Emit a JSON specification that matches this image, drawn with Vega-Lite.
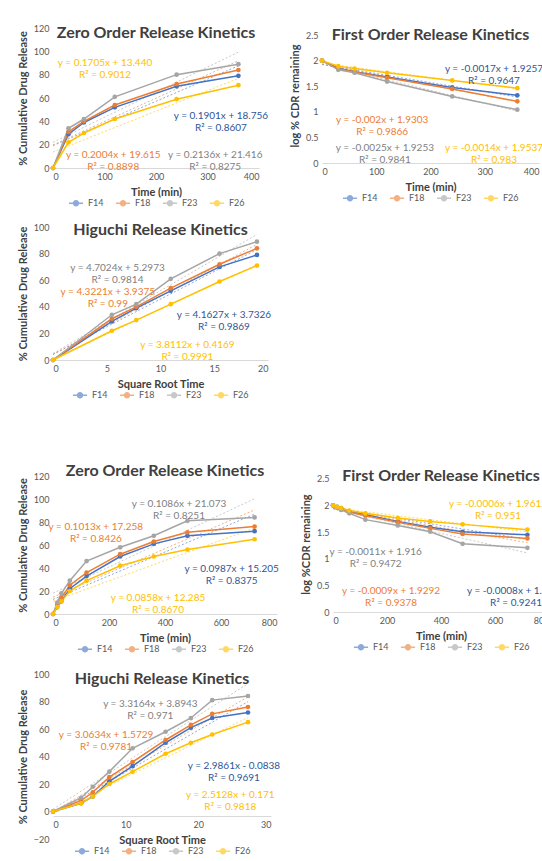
{
  "$schema": "https://vega.github.io/schema/vega-lite/v6.json",
  "background": "white",
  "padding": {"left": 17, "top": 24, "right": 0, "bottom": 0},
  "config": {
    "font": "Lato",
    "view": {"stroke": null},
    "axis": {"labelFontSize": 9, "labelColor": "#595959", "titleFontSize": 11, "titleFontWeight": "bold", "titleColor": "#404040", "domainColor": "#D9D9D9", "ticks": false, "grid": false, "labelPadding": 4, "titlePadding": 5},
    "title": {"fontSize": 16, "fontWeight": "bold", "color": "#404040", "anchor": "middle"},
    "legend": {"orient": "bottom", "direction": "horizontal", "labelFontSize": 9, "labelColor": "#595959", "columnPadding": 8, "offset": -2, "padding": 0, "symbolType": "M-1,0H1M0.35,0A0.35,0.35,0,1,1,-0.35,0A0.35,0.35,0,1,1,0.35,0", "symbolSize": 200, "symbolStrokeWidth": 1.5, "layout": {"offset": 18, "direction": "horizontal", "left": {"direction": "vertical"}, "right": {"direction": "vertical"}, "bottom": {"anchor": "middle", "direction": "horizontal"}}},
    "text": {"fontSize": 10, "lineHeight": 12, "align": "center", "baseline": "middle", "lineBreak": "\n"}
  },
  "datasets": {
    "pts": [
      {"p":"z1","s":"F14","x":0,"y":0},{"p":"z1","s":"F14","x":30,"y":29},{"p":"z1","s":"F14","x":60,"y":39},{"p":"z1","s":"F14","x":120,"y":52},{"p":"z1","s":"F14","x":240,"y":70},{"p":"z1","s":"F14","x":360,"y":79},
      {"p":"z1","s":"F18","x":0,"y":0},{"p":"z1","s":"F18","x":30,"y":31},{"p":"z1","s":"F18","x":60,"y":40},{"p":"z1","s":"F18","x":120,"y":54},{"p":"z1","s":"F18","x":240,"y":72},{"p":"z1","s":"F18","x":360,"y":84},
      {"p":"z1","s":"F23","x":0,"y":0},{"p":"z1","s":"F23","x":30,"y":34},{"p":"z1","s":"F23","x":60,"y":42},{"p":"z1","s":"F23","x":120,"y":61},{"p":"z1","s":"F23","x":240,"y":80},{"p":"z1","s":"F23","x":360,"y":89},
      {"p":"z1","s":"F26","x":0,"y":0},{"p":"z1","s":"F26","x":30,"y":22},{"p":"z1","s":"F26","x":60,"y":30},{"p":"z1","s":"F26","x":120,"y":42},{"p":"z1","s":"F26","x":240,"y":59},{"p":"z1","s":"F26","x":360,"y":71},

      {"p":"f1","s":"F14","x":0,"y":2},{"p":"f1","s":"F14","x":30,"y":1.851},{"p":"f1","s":"F14","x":60,"y":1.785},{"p":"f1","s":"F14","x":120,"y":1.681},{"p":"f1","s":"F14","x":240,"y":1.477},{"p":"f1","s":"F14","x":360,"y":1.322},
      {"p":"f1","s":"F18","x":0,"y":2},{"p":"f1","s":"F18","x":30,"y":1.839},{"p":"f1","s":"F18","x":60,"y":1.778},{"p":"f1","s":"F18","x":120,"y":1.663},{"p":"f1","s":"F18","x":240,"y":1.447},{"p":"f1","s":"F18","x":360,"y":1.204},
      {"p":"f1","s":"F23","x":0,"y":2},{"p":"f1","s":"F23","x":30,"y":1.820},{"p":"f1","s":"F23","x":60,"y":1.763},{"p":"f1","s":"F23","x":120,"y":1.591},{"p":"f1","s":"F23","x":240,"y":1.301},{"p":"f1","s":"F23","x":360,"y":1.041},
      {"p":"f1","s":"F26","x":0,"y":2},{"p":"f1","s":"F26","x":30,"y":1.892},{"p":"f1","s":"F26","x":60,"y":1.845},{"p":"f1","s":"F26","x":120,"y":1.763},{"p":"f1","s":"F26","x":240,"y":1.613},{"p":"f1","s":"F26","x":360,"y":1.462},

      {"p":"h1","s":"F14","x":0,"y":0},{"p":"h1","s":"F14","x":5.477,"y":29},{"p":"h1","s":"F14","x":7.746,"y":39},{"p":"h1","s":"F14","x":10.954,"y":52},{"p":"h1","s":"F14","x":15.492,"y":70},{"p":"h1","s":"F14","x":18.974,"y":79},
      {"p":"h1","s":"F18","x":0,"y":0},{"p":"h1","s":"F18","x":5.477,"y":31},{"p":"h1","s":"F18","x":7.746,"y":40},{"p":"h1","s":"F18","x":10.954,"y":54},{"p":"h1","s":"F18","x":15.492,"y":72},{"p":"h1","s":"F18","x":18.974,"y":84},
      {"p":"h1","s":"F23","x":0,"y":0},{"p":"h1","s":"F23","x":5.477,"y":34},{"p":"h1","s":"F23","x":7.746,"y":42},{"p":"h1","s":"F23","x":10.954,"y":61},{"p":"h1","s":"F23","x":15.492,"y":80},{"p":"h1","s":"F23","x":18.974,"y":89},
      {"p":"h1","s":"F26","x":0,"y":0},{"p":"h1","s":"F26","x":5.477,"y":22},{"p":"h1","s":"F26","x":7.746,"y":30},{"p":"h1","s":"F26","x":10.954,"y":42},{"p":"h1","s":"F26","x":15.492,"y":59},{"p":"h1","s":"F26","x":18.974,"y":71},

      {"p":"z2","s":"F14","x":0,"y":0},{"p":"z2","s":"F14","x":15,"y":6},{"p":"z2","s":"F14","x":30,"y":11},{"p":"z2","s":"F14","x":60,"y":22},{"p":"z2","s":"F14","x":120,"y":33},{"p":"z2","s":"F14","x":240,"y":50},{"p":"z2","s":"F14","x":360,"y":61},{"p":"z2","s":"F14","x":480,"y":68},{"p":"z2","s":"F14","x":720,"y":72},
      {"p":"z2","s":"F18","x":0,"y":0},{"p":"z2","s":"F18","x":15,"y":8},{"p":"z2","s":"F18","x":30,"y":14},{"p":"z2","s":"F18","x":60,"y":25},{"p":"z2","s":"F18","x":120,"y":36},{"p":"z2","s":"F18","x":240,"y":52},{"p":"z2","s":"F18","x":360,"y":63},{"p":"z2","s":"F18","x":480,"y":71},{"p":"z2","s":"F18","x":720,"y":76},
      {"p":"z2","s":"F23","x":0,"y":0},{"p":"z2","s":"F23","x":15,"y":10},{"p":"z2","s":"F23","x":30,"y":18},{"p":"z2","s":"F23","x":60,"y":29},{"p":"z2","s":"F23","x":120,"y":46},{"p":"z2","s":"F23","x":240,"y":58},{"p":"z2","s":"F23","x":360,"y":68},{"p":"z2","s":"F23","x":480,"y":81},{"p":"z2","s":"F23","x":720,"y":84},
      {"p":"z2","s":"F26","x":0,"y":0},{"p":"z2","s":"F26","x":15,"y":6},{"p":"z2","s":"F26","x":30,"y":11},{"p":"z2","s":"F26","x":60,"y":20},{"p":"z2","s":"F26","x":120,"y":29},{"p":"z2","s":"F26","x":240,"y":42},{"p":"z2","s":"F26","x":360,"y":50},{"p":"z2","s":"F26","x":480,"y":56},{"p":"z2","s":"F26","x":720,"y":65},

      {"p":"f2","s":"F14","x":0,"y":2},{"p":"f2","s":"F14","x":15,"y":1.973},{"p":"f2","s":"F14","x":30,"y":1.949},{"p":"f2","s":"F14","x":60,"y":1.892},{"p":"f2","s":"F14","x":120,"y":1.826},{"p":"f2","s":"F14","x":240,"y":1.699},{"p":"f2","s":"F14","x":360,"y":1.591},{"p":"f2","s":"F14","x":480,"y":1.505},{"p":"f2","s":"F14","x":720,"y":1.447},
      {"p":"f2","s":"F18","x":0,"y":2},{"p":"f2","s":"F18","x":15,"y":1.964},{"p":"f2","s":"F18","x":30,"y":1.934},{"p":"f2","s":"F18","x":60,"y":1.875},{"p":"f2","s":"F18","x":120,"y":1.806},{"p":"f2","s":"F18","x":240,"y":1.681},{"p":"f2","s":"F18","x":360,"y":1.568},{"p":"f2","s":"F18","x":480,"y":1.462},{"p":"f2","s":"F18","x":720,"y":1.380},
      {"p":"f2","s":"F23","x":0,"y":2},{"p":"f2","s":"F23","x":15,"y":1.954},{"p":"f2","s":"F23","x":30,"y":1.914},{"p":"f2","s":"F23","x":60,"y":1.851},{"p":"f2","s":"F23","x":120,"y":1.732},{"p":"f2","s":"F23","x":240,"y":1.623},{"p":"f2","s":"F23","x":360,"y":1.505},{"p":"f2","s":"F23","x":480,"y":1.279},{"p":"f2","s":"F23","x":720,"y":1.204},
      {"p":"f2","s":"F26","x":0,"y":2},{"p":"f2","s":"F26","x":15,"y":1.973},{"p":"f2","s":"F26","x":30,"y":1.949},{"p":"f2","s":"F26","x":60,"y":1.903},{"p":"f2","s":"F26","x":120,"y":1.851},{"p":"f2","s":"F26","x":240,"y":1.763},{"p":"f2","s":"F26","x":360,"y":1.699},{"p":"f2","s":"F26","x":480,"y":1.643},{"p":"f2","s":"F26","x":720,"y":1.544},

      {"p":"h2","s":"F14","x":0,"y":0},{"p":"h2","s":"F14","x":3.873,"y":6},{"p":"h2","s":"F14","x":5.477,"y":11},{"p":"h2","s":"F14","x":7.746,"y":22},{"p":"h2","s":"F14","x":10.954,"y":33},{"p":"h2","s":"F14","x":15.492,"y":50},{"p":"h2","s":"F14","x":18.974,"y":61},{"p":"h2","s":"F14","x":21.909,"y":68},{"p":"h2","s":"F14","x":26.833,"y":72},
      {"p":"h2","s":"F18","x":0,"y":0},{"p":"h2","s":"F18","x":3.873,"y":8},{"p":"h2","s":"F18","x":5.477,"y":14},{"p":"h2","s":"F18","x":7.746,"y":25},{"p":"h2","s":"F18","x":10.954,"y":36},{"p":"h2","s":"F18","x":15.492,"y":52},{"p":"h2","s":"F18","x":18.974,"y":63},{"p":"h2","s":"F18","x":21.909,"y":71},{"p":"h2","s":"F18","x":26.833,"y":76},
      {"p":"h2","s":"F23","x":0,"y":0},{"p":"h2","s":"F23","x":3.873,"y":10},{"p":"h2","s":"F23","x":5.477,"y":18},{"p":"h2","s":"F23","x":7.746,"y":29},{"p":"h2","s":"F23","x":10.954,"y":46},{"p":"h2","s":"F23","x":15.492,"y":58},{"p":"h2","s":"F23","x":18.974,"y":68},{"p":"h2","s":"F23","x":21.909,"y":81},{"p":"h2","s":"F23","x":26.833,"y":84},
      {"p":"h2","s":"F26","x":0,"y":0},{"p":"h2","s":"F26","x":3.873,"y":6},{"p":"h2","s":"F26","x":5.477,"y":11},{"p":"h2","s":"F26","x":7.746,"y":20},{"p":"h2","s":"F26","x":10.954,"y":29},{"p":"h2","s":"F26","x":15.492,"y":42},{"p":"h2","s":"F26","x":18.974,"y":50},{"p":"h2","s":"F26","x":21.909,"y":56},{"p":"h2","s":"F26","x":26.833,"y":65}
    ],
    "eq": [
      {"p":"z1","s":"F26","x":101,"y":90,"t":"y = 0.1705x + 13.440\nR² = 0.9012"},
      {"p":"z1","s":"F14","x":326,"y":45,"t":"y = 0.1901x + 18.756\nR² = 0.8607"},
      {"p":"z1","s":"F18","x":117,"y":11,"t":"y = 0.2004x + 19.615\nR² = 0.8898"},
      {"p":"z1","s":"F23","x":315,"y":11,"t":"y = 0.2136x + 21.416\nR² = 0.8275"},
      {"p":"f1","s":"F14","x":317,"y":1.84,"t":"y = -0.0017x + 1.9257\nR² = 0.9647"},
      {"p":"f1","s":"F18","x":111,"y":0.84,"t":"y = -0.002x + 1.9303\nR² = 0.9866"},
      {"p":"f1","s":"F23","x":116,"y":0.29,"t":"y = -0.0025x + 1.9253\nR² = 0.9841"},
      {"p":"f1","s":"F26","x":317,"y":0.29,"t":"y = -0.0014x + 1.9537\nR² = 0.983"},
      {"p":"h1","s":"F23","x":6.0,"y":69,"t":"y = 4.7024x + 5.2973\nR² = 0.9814"},
      {"p":"h1","s":"F18","x":5.1,"y":51,"t":"y = 4.3221x + 3.9375\nR² = 0.99"},
      {"p":"h1","s":"F14","x":15.9,"y":34,"t":"y = 4.1627x + 3.7326\nR² = 0.9869"},
      {"p":"h1","s":"F26","x":12.5,"y":11,"t":"y = 3.8112x + 0.4169\nR² = 0.9991"},
      {"p":"z2","s":"F23","x":450,"y":96,"t":"y = 0.1086x + 21.073\nR² = 0.8251"},
      {"p":"z2","s":"F18","x":153,"y":76,"t":"y = 0.1013x + 17.258\nR² = 0.8426"},
      {"p":"z2","s":"F14","x":638,"y":39,"t":"y = 0.0987x + 15.205\nR² = 0.8375"},
      {"p":"z2","s":"F26","x":375,"y":14,"t":"y = 0.0858x + 12.285\nR² = 0.8670"},
      {"p":"f2","s":"F26","x":611,"y":2.03,"t":"y = -0.0006x + 1.9612\nR² = 0.951"},
      {"p":"f2","s":"F23","x":158,"y":1.13,"t":"y = -0.0011x + 1.916\nR² = 0.9472"},
      {"p":"f2","s":"F18","x":215,"y":0.39,"t":"y = -0.0009x + 1.9292\nR² = 0.9378"},
      {"p":"f2","s":"F14","x":678,"y":0.39,"t":"y = -0.0008x + 1.9391\nR² = 0.9241"},
      {"p":"h2","s":"F23","x":13.4,"y":78,"t":"y = 3.3164x + 3.8943\nR² = 0.971"},
      {"p":"h2","s":"F18","x":7.3,"y":56,"t":"y = 3.0634x + 1.5729\nR² = 0.9781"},
      {"p":"h2","s":"F14","x":24.9,"y":33,"t":"y = 2.9861x - 0.0838\nR² = 0.9691"},
      {"p":"h2","s":"F26","x":24.4,"y":12,"t":"y = 2.5128x + 0.171\nR² = 0.9818"}
    ]
  },
  "spacing": 62,
  "vconcat": [
    {
      "spacing": 13,
      "vconcat": [
        {
          "spacing": 20,
          "resolve": {"scale": {"color": "independent", "fill": "independent"}, "legend": {"color": "independent"}},
          "hconcat": [
            {
              "width": 206, "height": 140,
              "title": {"text": "Zero Order Release Kinetics", "offset": -17},
              "encoding": {
                "x": {"field": "x", "type": "quantitative", "scale": {"domain": [0, 400]}, "axis": {"values": [0, 100, 200, 300, 400], "title": "Time (min)"}},
                "y": {"field": "y", "type": "quantitative", "scale": {"domain": [0, 120]}, "axis": {"values": [0, 20, 40, 60, 80, 100, 120], "title": "% Cumulative Drug Release", "domain": false}}
              },
              "layer": [
                {"data": {"name": "pts"}, "transform": [{"filter": "datum.p == 'z1'"}, {"regression": "y", "on": "x", "groupby": ["s"]}], "mark": {"type": "line", "strokeDash": [2, 2], "strokeWidth": 1, "opacity": 0.6}, "encoding": {"color": {"field": "s", "type": "nominal", "scale": {"domain": ["F14", "F18", "F23", "F26"], "range": ["#4472C4", "#ED7D31", "#A5A5A5", "#FFC000"]}, "legend": {"title": null}}}},
                {"data": {"name": "pts"}, "transform": [{"filter": "datum.p == 'z1'"}], "mark": {"type": "line", "strokeWidth": 1.5, "point": {"filled": true, "size": 22}}, "encoding": {"color": {"field": "s", "type": "nominal", "scale": {"domain": ["F14", "F18", "F23", "F26"], "range": ["#4472C4", "#ED7D31", "#A5A5A5", "#FFC000"]}, "legend": {"title": null}}}},
                {"data": {"name": "eq"}, "transform": [{"filter": "datum.p == 'z1'"}], "mark": {"type": "text"}, "encoding": {"text": {"field": "t"}, "fill": {"field": "s", "type": "nominal", "scale": {"domain": ["F14", "F18", "F23", "F26"], "range": ["#2F5597", "#ED7D31", "#7F7F7F", "#FFC000"]}, "legend": null}}}
              ]
            },
            {
              "width": 217, "height": 135,
              "title": {"text": "First Order Release Kinetics", "offset": -15},
              "encoding": {
                "x": {"field": "x", "type": "quantitative", "scale": {"domain": [0, 400]}, "axis": {"values": [0, 100, 200, 300, 400], "title": "Time (min)"}},
                "y": {"field": "y", "type": "quantitative", "scale": {"domain": [0, 2.637], "nice": false}, "axis": {"values": [0, 0.5, 1, 1.5, 2, 2.5], "format": "~g", "title": "log % CDR remaining", "domain": false}}
              },
              "layer": [
                {"data": {"name": "pts"}, "transform": [{"filter": "datum.p == 'f1'"}, {"regression": "y", "on": "x", "groupby": ["s"]}], "mark": {"type": "line", "strokeDash": [2, 2], "strokeWidth": 1, "opacity": 0.6}, "encoding": {"color": {"field": "s", "type": "nominal", "scale": {"domain": ["F14", "F18", "F23", "F26"], "range": ["#4472C4", "#ED7D31", "#A5A5A5", "#FFC000"]}, "legend": {"title": null}}}},
                {"data": {"name": "pts"}, "transform": [{"filter": "datum.p == 'f1'"}], "mark": {"type": "line", "strokeWidth": 1.5, "point": {"filled": true, "size": 22}}, "encoding": {"color": {"field": "s", "type": "nominal", "scale": {"domain": ["F14", "F18", "F23", "F26"], "range": ["#4472C4", "#ED7D31", "#A5A5A5", "#FFC000"]}, "legend": {"title": null}}}},
                {"data": {"name": "eq"}, "transform": [{"filter": "datum.p == 'f1'"}], "mark": {"type": "text"}, "encoding": {"text": {"field": "t"}, "fill": {"field": "s", "type": "nominal", "scale": {"domain": ["F14", "F18", "F23", "F26"], "range": ["#2F5597", "#ED7D31", "#7F7F7F", "#FFC000"]}, "legend": null}}}
              ]
            }
          ]
        },
        {
          "width": 215, "height": 133,
          "title": {"text": "Higuchi Release Kinetics", "offset": -15},
          "encoding": {
            "x": {"field": "x", "type": "quantitative", "scale": {"domain": [0, 20]}, "axis": {"values": [0, 5, 10, 15, 20], "title": "Square Root Time"}},
            "y": {"field": "y", "type": "quantitative", "scale": {"domain": [0, 100]}, "axis": {"values": [0, 20, 40, 60, 80, 100], "title": "% Cumulative Drug Release", "domain": false}}
          },
          "layer": [
            {"data": {"name": "pts"}, "transform": [{"filter": "datum.p == 'h1'"}, {"regression": "y", "on": "x", "groupby": ["s"]}], "mark": {"type": "line", "strokeDash": [2, 2], "strokeWidth": 1, "opacity": 0.6}, "encoding": {"color": {"field": "s", "type": "nominal", "scale": {"domain": ["F14", "F18", "F23", "F26"], "range": ["#4472C4", "#ED7D31", "#A5A5A5", "#FFC000"]}, "legend": {"title": null}}}},
            {"data": {"name": "pts"}, "transform": [{"filter": "datum.p == 'h1'"}], "mark": {"type": "line", "strokeWidth": 1.5, "point": {"filled": true, "size": 22}}, "encoding": {"color": {"field": "s", "type": "nominal", "scale": {"domain": ["F14", "F18", "F23", "F26"], "range": ["#4472C4", "#ED7D31", "#A5A5A5", "#FFC000"]}, "legend": {"title": null}}}},
            {"data": {"name": "eq"}, "transform": [{"filter": "datum.p == 'h1'"}], "mark": {"type": "text"}, "encoding": {"text": {"field": "t"}, "fill": {"field": "s", "type": "nominal", "scale": {"domain": ["F14", "F18", "F23", "F26"], "range": ["#2F5597", "#ED7D31", "#7F7F7F", "#FFC000"]}, "legend": null}}}
          ]
        }
      ],
      "resolve": {"scale": {"color": "independent", "fill": "independent"}, "legend": {"color": "independent"}}
    },
    {
      "spacing": 15,
      "vconcat": [
        {
          "spacing": 21,
          "resolve": {"scale": {"color": "independent", "fill": "independent"}, "legend": {"color": "independent"}},
          "hconcat": [
            {
              "width": 224, "height": 138,
              "title": {"text": "Zero Order Release Kinetics", "offset": -7},
              "encoding": {
                "x": {"field": "x", "type": "quantitative", "scale": {"domain": [0, 800]}, "axis": {"values": [0, 200, 400, 600, 800], "title": "Time (min)"}},
                "y": {"field": "y", "type": "quantitative", "scale": {"domain": [0, 120]}, "axis": {"values": [0, 20, 40, 60, 80, 100, 120], "title": "% Cumulative Drug Release", "domain": false}}
              },
              "layer": [
                {"data": {"name": "pts"}, "transform": [{"filter": "datum.p == 'z2'"}, {"regression": "y", "on": "x", "groupby": ["s"]}], "mark": {"type": "line", "strokeDash": [2, 2], "strokeWidth": 1, "opacity": 0.6}, "encoding": {"color": {"field": "s", "type": "nominal", "scale": {"domain": ["F14", "F18", "F23", "F26"], "range": ["#4472C4", "#ED7D31", "#A5A5A5", "#FFC000"]}, "legend": {"title": null}}}},
                {"data": {"name": "pts"}, "transform": [{"filter": "datum.p == 'z2'"}], "mark": {"type": "line", "strokeWidth": 1.5, "point": {"filled": true, "size": 22}}, "encoding": {"color": {"field": "s", "type": "nominal", "scale": {"domain": ["F14", "F18", "F23", "F26"], "range": ["#4472C4", "#ED7D31", "#A5A5A5", "#FFC000"]}, "legend": {"title": null}}}},
                {"data": {"name": "eq"}, "transform": [{"filter": "datum.p == 'z2'"}], "mark": {"type": "text"}, "encoding": {"text": {"field": "t"}, "fill": {"field": "s", "type": "nominal", "scale": {"domain": ["F14", "F18", "F23", "F26"], "range": ["#2F5597", "#ED7D31", "#7F7F7F", "#FFC000"]}, "legend": null}}}
              ]
            },
            {
              "width": 216, "height": 136,
              "title": {"text": "First Order Release Kinetics", "offset": -9},
              "encoding": {
                "x": {"field": "x", "type": "quantitative", "scale": {"domain": [0, 800]}, "axis": {"values": [0, 200, 400, 600, 800], "title": "Time (min)"}},
                "y": {"field": "y", "type": "quantitative", "scale": {"domain": [0, 2.55], "nice": false}, "axis": {"values": [0, 0.5, 1, 1.5, 2, 2.5], "format": "~g", "title": "log %CDR remaining", "domain": false}}
              },
              "layer": [
                {"data": {"name": "pts"}, "transform": [{"filter": "datum.p == 'f2'"}, {"regression": "y", "on": "x", "groupby": ["s"]}], "mark": {"type": "line", "strokeDash": [2, 2], "strokeWidth": 1, "opacity": 0.6}, "encoding": {"color": {"field": "s", "type": "nominal", "scale": {"domain": ["F14", "F18", "F23", "F26"], "range": ["#4472C4", "#ED7D31", "#A5A5A5", "#FFC000"]}, "legend": {"title": null}}}},
                {"data": {"name": "pts"}, "transform": [{"filter": "datum.p == 'f2'"}], "mark": {"type": "line", "strokeWidth": 1.5, "point": {"filled": true, "size": 22}}, "encoding": {"color": {"field": "s", "type": "nominal", "scale": {"domain": ["F14", "F18", "F23", "F26"], "range": ["#4472C4", "#ED7D31", "#A5A5A5", "#FFC000"]}, "legend": {"title": null}}}},
                {"data": {"name": "eq"}, "transform": [{"filter": "datum.p == 'f2'"}], "mark": {"type": "text"}, "encoding": {"text": {"field": "t"}, "fill": {"field": "s", "type": "nominal", "scale": {"domain": ["F14", "F18", "F23", "F26"], "range": ["#2F5597", "#ED7D31", "#7F7F7F", "#FFC000"]}, "legend": null}}}
              ]
            }
          ]
        },
        {
          "width": 218, "height": 165,
          "title": {"text": "Higuchi Release Kinetics", "offset": -17},
          "encoding": {
            "x": {"field": "x", "type": "quantitative", "scale": {"domain": [0, 30]}, "axis": {"values": [0, 10, 20, 30], "title": "Square Root Time", "offset": -23}},
            "y": {"field": "y", "type": "quantitative", "scale": {"domain": [-20, 100]}, "axis": {"values": [-20, 0, 20, 40, 60, 80, 100], "title": "% Cumulative Drug Release", "domain": false}}
          },
          "layer": [
            {"data": {"name": "pts"}, "transform": [{"filter": "datum.p == 'h2'"}, {"regression": "y", "on": "x", "groupby": ["s"]}], "mark": {"type": "line", "strokeDash": [2, 2], "strokeWidth": 1, "opacity": 0.6}, "encoding": {"color": {"field": "s", "type": "nominal", "scale": {"domain": ["F14", "F18", "F23", "F26"], "range": ["#4472C4", "#ED7D31", "#A5A5A5", "#FFC000"]}, "legend": {"title": null}}}},
            {"data": {"name": "pts"}, "transform": [{"filter": "datum.p == 'h2'"}], "mark": {"type": "line", "strokeWidth": 1.5, "point": {"filled": true, "size": 22}}, "encoding": {"color": {"field": "s", "type": "nominal", "scale": {"domain": ["F14", "F18", "F23", "F26"], "range": ["#4472C4", "#ED7D31", "#A5A5A5", "#FFC000"]}, "legend": {"title": null}}}},
            {"data": {"name": "eq"}, "transform": [{"filter": "datum.p == 'h2'"}], "mark": {"type": "text"}, "encoding": {"text": {"field": "t"}, "fill": {"field": "s", "type": "nominal", "scale": {"domain": ["F14", "F18", "F23", "F26"], "range": ["#2F5597", "#ED7D31", "#7F7F7F", "#FFC000"]}, "legend": null}}}
          ]
        }
      ],
      "resolve": {"scale": {"color": "independent", "fill": "independent"}, "legend": {"color": "independent"}}
    }
  ],
  "resolve": {"scale": {"color": "independent", "fill": "independent"}, "legend": {"color": "independent"}}
}
